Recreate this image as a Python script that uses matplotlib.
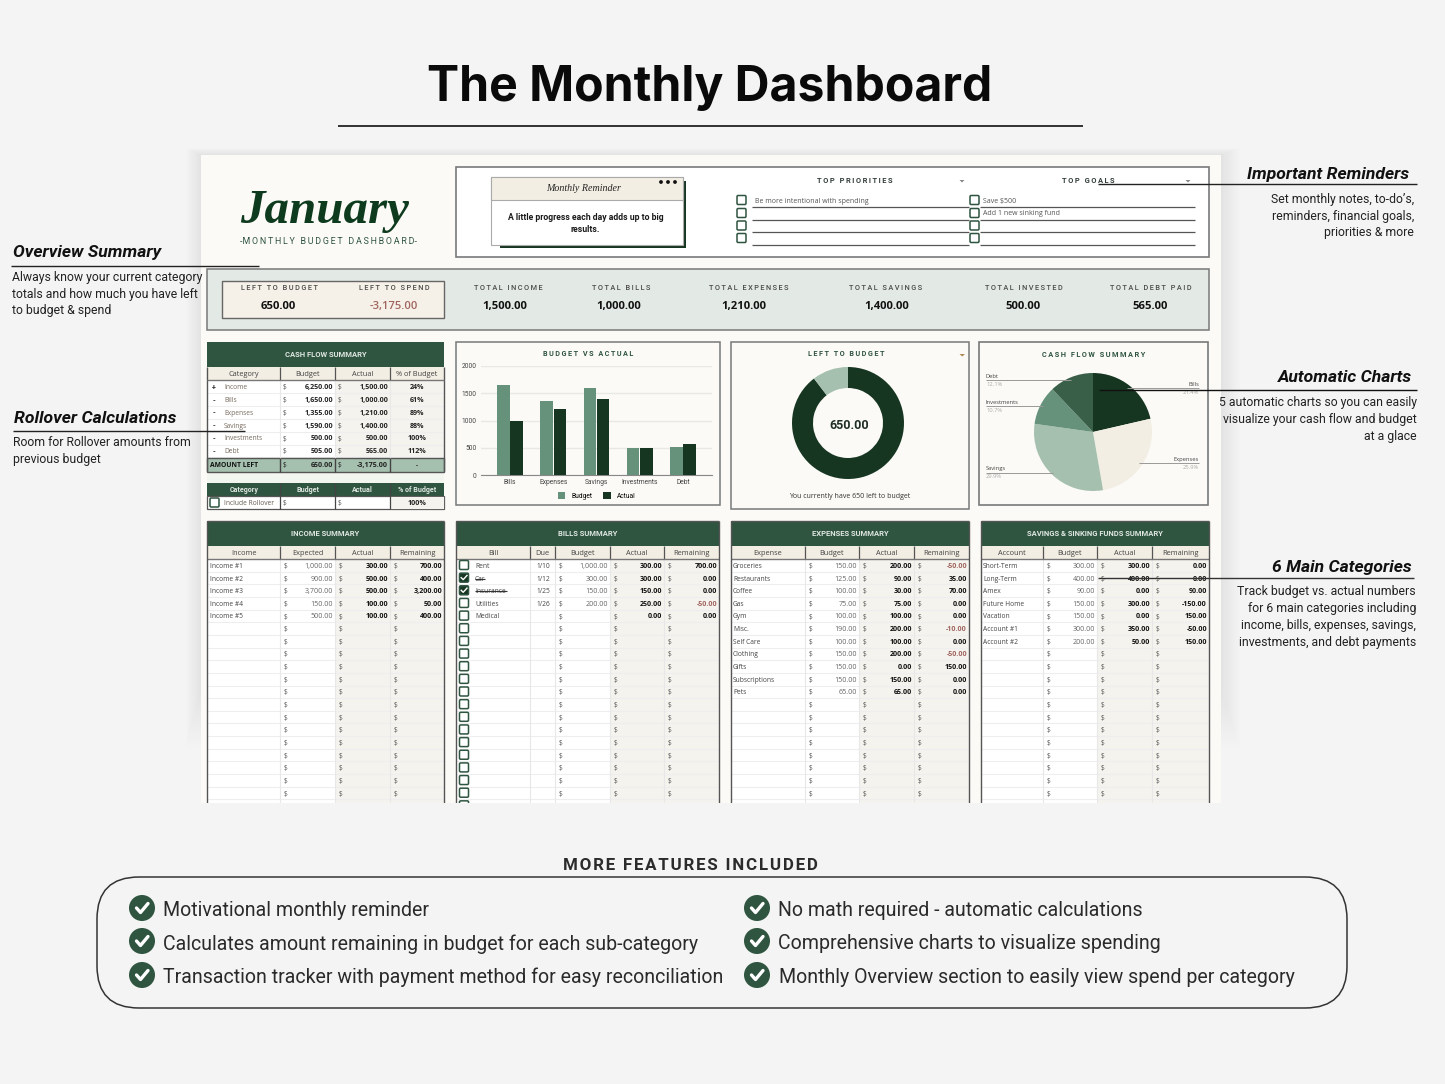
import matplotlib
matplotlib.use("Agg")
from matplotlib import pyplot as plt
from matplotlib.patches import Rectangle, FancyBboxPatch, Circle, Polygon

W, H = 1445, 1084

# colours
BG = "#f4f4f4"
PANEL = "#fbfaf6"
DARK = "#173622"
HEAD = "#2f5440"
MID = "#66917a"
DEEP = "#3a5f48"
LIGHT = "#a5c0ae"
CREAM = "#f3eee3"
SHADE = "#f5f3ee"
BAND = "#e3e9e4"
EDGE = "#77797a"
RED = "#a0645f"

# stat strip
stat_labels = ["LEFT TO BUDGET", "LEFT TO SPEND", "TOTAL INCOME", "TOTAL BILLS",
               "TOTAL EXPENSES", "TOTAL SAVINGS", "TOTAL INVESTED", "TOTAL DEBT PAID"]
stat_values = [650, -3175, 1500, 1000, 1210, 1400, 500, 565]

# cash flow table
flow_signs = ["+", "-", "-", "-", "-", "-"]
flow_cats = ["Income", "Bills", "Expenses", "Savings", "Investments", "Debt"]
flow_budget = [6250, 1650, 1355, 1590, 500, 505]
flow_actual = [1500, 1000, 1210, 1400, 500, 565]
flow_pct = ["24%", "61%", "89%", "88%", "100%", "112%"]

# charts
bar_cats = ["Bills", "Expenses", "Savings", "Investments", "Debt"]
bar_budget = [1650, 1355, 1590, 500, 505]
bar_actual = [1000, 1210, 1400, 500, 565]
donut_values = [5600, 650]
pie_labels = ["Bills", "Expenses", "Savings", "Investments", "Debt"]
pie_values = [1000, 1210, 1400, 500, 565]

# summary tables
income_names = ["Income #1", "Income #2", "Income #3", "Income #4", "Income #5"]
income_expected = [1000, 900, 3700, 150, 500]
income_actual = [300, 500, 500, 100, 100]
income_left = [700, 400, 3200, 50, 400]

bill_names = ["Rent", "Car", "Insurance", "Utilities", "Medical"]
bill_due = ["1/10", "1/12", "1/25", "1/26", ""]
bill_paid = [False, True, True, False, False]
bill_budget = [1000, 300, 150, 200, None]
bill_actual = [300, 300, 150, 250, 0]
bill_left = [700, 0, 0, -50, 0]

expense_names = ["Groceries", "Restaurants", "Coffee", "Gas", "Gym", "Misc.", "Self Care",
                 "Clothing", "Gifts", "Subscriptions", "Pets"]
expense_budget = [150, 125, 100, 75, 100, 190, 100, 150, 150, 150, 65]
expense_actual = [200, 90, 30, 75, 100, 200, 100, 200, 0, 150, 65]
expense_left = [-50, 35, 70, 0, 0, -10, 0, -50, 150, 0, 0]

saving_names = ["Short-Term", "Long-Term", "Amex", "Future Home", "Vacation", "Account #1", "Account #2"]
saving_budget = [300, 400, 90, 150, 150, 300, 200]
saving_actual = [300, 400, 0, 300, 0, 350, 50]
saving_left = [0, 0, 90, -150, 150, -50, 150]

features_left = ["Motivational monthly reminder",
                 "Calculates amount remaining in budget for each sub-category",
                 "Transaction tracker with payment method for easy reconciliation"]
features_right = ["No math required - automatic calculations",
                  "Comprehensive charts to visualize spending",
                  "Monthly Overview section to easily view spend per category"]

fig = plt.figure(figsize=(W / 100, H / 100), dpi=100, facecolor=BG)


def pixel_axes(x0=0, y0=0, x1=W, y1=H, z=0):
    return fig.add_axes([x0 / W, 1 - y1 / H, (x1 - x0) / W, (y1 - y0) / H], zorder=z)


base = pixel_axes()
base.set_xlim(0, W)
base.set_ylim(H, 0)
base.axis("off")

top = pixel_axes(z=5)
top.set_xlim(0, W)
top.set_ylim(H, 0)
top.axis("off")
top.patch.set_alpha(0)


def txt(ax, x, y, s, px, color="#222222", ha="left", weight="normal", family="Roboto", **kw):
    return ax.text(x, y + 0.8, s, fontsize=px * 0.72, color=color, ha=ha, va="center",
                   fontweight=weight, family=family, **kw)


def track(s, gap="\u2009"):
    return gap.join(s)


def box(x0, y0, x1, y1, fc, ec="none", lw=0.0, z=1, ax=base, alpha=None):
    ax.add_patch(Rectangle((x0, y0), x1 - x0, y1 - y0, fc=fc, ec=ec, lw=lw, zorder=z, alpha=alpha))


def line(x0, y0, x1, y1, color="#333333", lw=1.0, z=2, ax=base):
    ax.plot([x0, x1], [y0, y1], color=color, lw=lw, zorder=z, solid_capstyle="butt")


def money(v):
    return f"{v:,.2f}"


def tick_box(x, y, size=9, checked=False):
    base.add_patch(FancyBboxPatch((x - size / 2, y - size / 2), size, size,
                                  boxstyle="round,pad=0,rounding_size=1.2",
                                  fc=DARK if checked else "white", ec=HEAD, lw=1.1, zorder=4))
    if checked:
        base.plot([x - 2.8, x - 0.8, x + 3], [y, y + 2, y - 2.2], color="white", lw=1.0, zorder=5)


def table_header(x0, x1, y, title, cols, col_x):
    box(x0, y, x1, y + 25, HEAD)
    txt(base, (x0 + x1) / 2, y + 12, title, 7.6, color="#dfe7e1", ha="center", weight="bold", zorder=6)
    box(x0, y + 25, x1, y + 38, CREAM)
    edges = [x0] + col_x + [x1]
    for c, a, b in zip(cols, edges[:-1], edges[1:]):
        txt(base, (a + b) / 2, y + 32, c, 7.4, color="#444444", ha="center", family="Open Sans", zorder=6)
    for c in col_x:
        line(c, y + 25, c, y + 38, color="#555555", lw=0.9, z=4)
    line(x0, y + 38, x1, y + 38, color="#777777", lw=1.0, z=4)


def summary_table(x0, x1, title, cols, col_x, names, name_x, a, b, c, left_cols=0):
    # a, b, c: three money columns; col_x[-3:] are their left edges
    y = 521
    table_header(x0, x1, y, title, cols, col_x)
    mx = col_x[-3:]
    row0 = y + 38
    rh = 12.65
    box(x0, row0, x1, 803, "white", z=1)
    box(mx[1], row0, x1, 803, SHADE, z=1)
    for r in range(20):
        yy = row0 + r * rh
        line(x0, yy + rh, x1, yy + rh, color="#eeeeee", lw=0.8, z=2)
        ym = yy + 6.6
        for cx, right, col, bold in zip(mx, mx[1:] + [x1], (a, b, c), (False, True, True)):
            txt(base, cx + 3.5, ym, "$", 6.6, color="#555555", family="Open Sans", zorder=3)
            if r < len(col) and col[r] is not None:
                v = col[r]
                colr = RED if v < 0 and title != "SAVINGS & SINKING FUNDS SUMMARY" else ("#111111" if bold else "#666666")
                txt(base, right - 2, ym, money(v), 7.1, color=colr, ha="right",
                    weight="bold" if bold else "normal", family="Open Sans", zorder=3)
        if r < len(names):
            txt(base, name_x, ym, names[r], 6.6, color="#444444", family="Open Sans", zorder=3)
    for cx in col_x:
        line(cx, row0, cx, 803, color="#e8e8e8", lw=0.8, z=2)
    line(x0, 521, x0, 803, color="#555555", lw=1.0, z=4)
    line(x1, 521, x1, 803, color="#555555", lw=1.0, z=4)
    line(x0, 521, x1, 521, color="#555555", lw=1.0, z=4)


# page title
txt(base, 710, 87.5, "The Monthly Dashboard", 48.2, color="#0a0a0a", ha="center", weight="bold", family="Inter")
line(338, 126, 1083, 126, color="#111111", lw=1.2)

# soft shadow, then the sheet
for i in range(18):
    box(201 - i * 0.9, 155 - i * 0.4, 1221 + i * 1.1, 690 + i * 3.4, "#000000", z=0.5, alpha=0.0055)
box(201, 155, 1221, 803, PANEL, z=0.8)

# month block
txt(base, 325, 210, "January", 49, color="#0e3a1e", ha="center", weight="bold", family="Liberation Serif", style="italic")
txt(base, 328, 241, "-" + track("MONTHLY BUDGET DASHBOARD") + "-", 8.9, color="#2f5440", ha="center")

# reminder box
box(456, 167, 1209, 257, "white", ec=EDGE, lw=1.2)
box(500, 181, 686, 248, DARK, z=2)
box(491, 177, 683, 245, "white", ec="#aaaaaa", lw=0.8, z=3)
box(491, 177, 683, 200, CREAM, ec="#aaaaaa", lw=0.8, z=3)
txt(base, 584, 188, "Monthly Reminder", 10, color="#222222", ha="center", family="Liberation Serif", style="italic", zorder=4)
for dx in [661, 668, 675]:
    base.add_patch(Circle((dx, 182), 1.9, fc="#111111", zorder=4))
txt(base, 586, 217, "A little progress each day adds up to big", 8.7, color="#1a1a1a", ha="center", weight="bold", zorder=4)
txt(base, 585, 229, "results.", 8.7, color="#1a1a1a", ha="center", weight="bold", zorder=4)

txt(base, 855, 180, track("TOP PRIORITIES"), 7.5, color="#333f38", ha="center", weight="bold")
txt(base, 1088, 180, track("TOP GOALS"), 7.5, color="#333f38", ha="center", weight="bold")
for tx in [962, 1188]:
    base.add_patch(Polygon([[tx - 2.5, 180], [tx + 2.5, 180], [tx, 182.5]], fc="#888888"))
for cy, ly in zip([200, 213, 225.5, 238], [207, 219.5, 231.5, 244.5]):
    tick_box(741.5, cy)
    tick_box(974.5, cy)
    line(752, ly, 969, ly, color="#555555", lw=0.9)
    line(980, ly, 1195, ly, color="#555555", lw=0.9)
txt(base, 755, 200.5, "Be more intentional with spending", 7, color="#555555", family="Open Sans")
txt(base, 983, 200.5, "Save $500", 7, color="#555555", family="Open Sans")
txt(base, 983, 213, "Add 1 new sinking fund", 7, color="#555555", family="Open Sans")

# stat strip
box(207, 269, 1209, 330, BAND, ec=EDGE, lw=1.1)
box(222, 281, 444, 318, "#f6f1e8", ec="#666666", lw=1.0, z=2)
label_x = [279, 394, 508, 621, 749, 886, 1024, 1151]
value_x = [278, 394, 505, 619, 744, 887, 1023, 1150]
for lab, val, lx, vx in zip(stat_labels, stat_values, label_x, value_x):
    txt(base, lx, 287.5, track(lab), 7.4, color="#4a4a48", ha="center", weight="medium", zorder=3)
    txt(base, vx, 306, money(val), 11.2, color=RED if val < 0 else "#111111", ha="center",
        weight="bold" if val >= 0 else "semibold", family="Open Sans", zorder=3)

# cash flow summary
table_header(207, 444, 342, "CASH FLOW SUMMARY", ["Category", "Budget", "Actual", "% of Budget"], [280, 335, 390])
box(207, 380, 444, 458, "white")
box(335, 380, 444, 458, SHADE)
for r, (sign, cat, bud, act, pct) in enumerate(zip(flow_signs, flow_cats, flow_budget, flow_actual, flow_pct)):
    ym = 387 + r * 12.8
    line(207, ym + 6.4, 444, ym + 6.4, color="#eeeeee", lw=0.8)
    txt(base, 214, ym, sign, 7, color="#333333", ha="center", weight="bold", zorder=3)
    txt(base, 224, ym, cat, 6.6, color="#776a5e", family="Open Sans", zorder=3)
    txt(base, 283, ym, "$", 6.6, color="#555555", family="Open Sans", zorder=3)
    txt(base, 333, ym, money(bud), 7.1, color="#222222", ha="right", weight="bold", family="Open Sans", zorder=3)
    txt(base, 338, ym, "$", 6.6, color="#555555", family="Open Sans", zorder=3)
    txt(base, 388, ym, money(act), 7.1, color="#222222", ha="right", weight="bold", family="Open Sans", zorder=3)
    txt(base, 417, ym, pct, 7.1, color="#222222", ha="center", weight="bold", family="Open Sans", zorder=3)
box(207, 458, 444, 471.5, LIGHT, ec="#555555", lw=1.0, z=2)
txt(base, 210, 464.5, "AMOUNT LEFT", 6.8, color="#111111", weight="bold", family="Open Sans", zorder=3)
txt(base, 283, 464.5, "$", 6.6, color="#222222", family="Open Sans", zorder=3)
txt(base, 333, 464.5, money(650), 7.1, color="#222222", ha="right", weight="bold", family="Open Sans", zorder=3)
txt(base, 338, 464.5, "$", 6.6, color="#222222", family="Open Sans", zorder=3)
txt(base, 388, 464.5, money(-3175), 7.1, color="#222222", ha="right", weight="bold", family="Open Sans", zorder=3)
txt(base, 417, 464.5, "-", 6.4, color="#222222", ha="center", weight="bold", family="Open Sans", zorder=3)
box(207, 472, 444, 483, "#f3f5ef")
for c in [280, 335, 390]:
    line(c, 380, c, 458, color="#e8e8e8", lw=0.8)
    line(c, 458, c, 471.5, color="#444444", lw=1.0, z=3)
line(207, 367, 207, 471, color="#555555", lw=1.0, z=3)
line(444, 367, 444, 471, color="#555555", lw=1.0, z=3)

box(207, 483, 444, 496, HEAD)
for lab, cx in zip(["Category", "Budget", "Actual", "% of Budget"], [244, 308, 362, 417]):
    txt(base, cx, 489.2, lab, 7.2, color="#dfe7e1", ha="center", weight="bold", zorder=3)
box(207, 496, 444, 509, "white", ec="#555555", lw=0.9)
box(390, 496, 444, 509, SHADE, ec="#555555", lw=0.6, z=2)
for c in [280, 335, 390]:
    line(c, 483, c, 509, color="#444444", lw=0.9, z=3)
tick_box(214.5, 502.5)
txt(base, 224, 502.5, "Include Rollover", 6.6, color="#665b50", family="Open Sans", zorder=3)
txt(base, 283, 502.5, "$", 6.6, color="#555555", family="Open Sans", zorder=3)
txt(base, 338, 502.5, "$", 6.6, color="#555555", family="Open Sans", zorder=3)
txt(base, 417, 502.5, "100%", 7.1, color="#222222", ha="center", weight="bold", family="Open Sans", zorder=3)

# chart frames
box(456, 342, 720, 505, PANEL, ec=EDGE, lw=1.1)
box(730.5, 342, 969, 508.5, PANEL, ec=EDGE, lw=1.1)
box(979, 342, 1208, 505, PANEL, ec=EDGE, lw=1.2)
txt(base, 588, 353, track("BUDGET VS ACTUAL"), 7.3, color=HEAD, ha="center", weight="bold")
txt(base, 846, 353.5, track("LEFT TO BUDGET"), 7.3, color=HEAD, ha="center", weight="bold")
txt(base, 1094, 354, track("CASH FLOW SUMMARY"), 7.4, color=HEAD, ha="center", weight="bold")
base.add_patch(Polygon([[959.5, 354], [965, 354], [962.2, 356.5]], fc="#b08a55"))
txt(base, 849.5, 495.5, "You currently have 650 left to budget", 7.0, color="#333333", ha="center", family="Open Sans")

# budget vs actual bars
ax = pixel_axes(481, 366, 712, 475, z=1)
ax.patch.set_alpha(0)
xs = range(len(bar_cats))
ax.bar([i - 0.155 for i in xs], bar_budget, width=0.29, color=MID, zorder=3, label="Budget")
ax.bar([i + 0.155 for i in xs], bar_actual, width=0.29, color=DARK, zorder=3, label="Actual")
ax.set_xlim(-0.67, 4.67)
ax.set_ylim(0, 2000)
ax.set_yticks([0, 500, 1000, 1500, 2000])
ax.set_xticks(list(xs), bar_cats)
ax.tick_params(length=0, labelsize=4.8, labelcolor="#444444", pad=3)
for lb in ax.get_xticklabels() + ax.get_yticklabels():
    lb.set_family("Roboto")
ax.grid(axis="y", color="#e8e8e4", lw=1.0, zorder=0)
for s in ["top", "right", "left"]:
    ax.spines[s].set_visible(False)
ax.spines["bottom"].set_color("#888888")
ax.legend(loc="upper center", bbox_to_anchor=(0.5, -0.105), ncol=2, frameon=False,
          handlelength=1.15, handleheight=1.15, columnspacing=1.6, handletextpad=0.9,
          prop={"family": "Roboto", "size": 4.8})

# donut
ax = pixel_axes(848 - 56, 423 - 56, 848 + 56, 423 + 56, z=1)
ax.pie(donut_values, startangle=90, counterclock=False, colors=[DARK, LIGHT], radius=1.0,
       wedgeprops={"width": 21 / 56, "linewidth": 0})
ax.set_xlim(-1, 1)
ax.set_ylim(-1, 1)
txt(top, 849.5, 425, "650.00", 12.5, color="#1e2e25", ha="center", weight="bold")

# cash flow pie
ax = pixel_axes(1093 - 59, 432 - 59, 1093 + 59, 432 + 59, z=1)
ax.pie(pie_values, startangle=90, counterclock=False, colors=[DARK, CREAM, LIGHT, MID, DEEP], radius=1.0,
       wedgeprops={"linewidth": 0})
ax.set_xlim(-1, 1)
ax.set_ylim(-1, 1)

total = sum(pie_values)
pie_pct = [f"{v / total * 100:.1f}%" for v in pie_values]
label_spots = [(1199, 388, 1127, "right"), (1199, 463, 1139, "right"), (986, 472.5, 1053, "left"),
               (986, 406, 1043, "left"), (986, 380, 1071, "left")]
for name, pct, (lx, ly, tipx, ha) in zip(pie_labels, pie_pct, label_spots):
    line(lx, ly, tipx, ly, color="#999999", lw=0.7, z=4, ax=top)
    txt(top, lx, ly - 4.5, name, 5.8, color="#444444", ha=ha, family="Open Sans")
    txt(top, lx, ly + 3.5, pct, 5.8, color="#aaaaaa", ha=ha, family="Open Sans")

# summary tables
summary_table(207, 444, "INCOME SUMMARY", ["Income", "Expected", "Actual", "Remaining"], [280, 335, 390],
              income_names, 210, income_expected, income_actual, income_left)
summary_table(456, 719, "BILLS SUMMARY", ["Bill", "Due", "Budget", "Actual", "Remaining"], [530, 555, 610, 664],
              bill_names, 475, bill_budget, bill_actual, bill_left)
for r in range(20):
    ym = 559 + r * 12.65 + 6.6
    paid = r < len(bill_paid) and bill_paid[r]
    tick_box(464, ym - 0.6, checked=paid)
    if r < len(bill_due):
        txt(base, 543, ym, bill_due[r], 6.6, color="#444444", ha="center", family="Open Sans", zorder=3)
    if paid:
        line(475, ym + 0.5, 475 + (10 if bill_names[r] == "Car" else 32), ym + 0.5, color="#333333", lw=0.8, z=4)
summary_table(731, 969, "EXPENSES SUMMARY", ["Expense", "Budget", "Actual", "Remaining"], [805, 859, 914],
              expense_names, 733, expense_budget, expense_actual, expense_left)
summary_table(981, 1209, "SAVINGS & SINKING FUNDS SUMMARY", ["Account", "Budget", "Actual", "Remaining"], [1043, 1097, 1152],
              saving_names, 983, saving_budget, saving_actual, saving_left)

# hide what runs past the crop
box(190, 803, 1260, 850, BG, z=8)

# callouts
HEAD_PX = 17.5
DESC_PX = 12.2
txt(top, 1409, 173.5, "Important Reminders", HEAD_PX, color="#111111", ha="right", weight="bold", style="italic")
line(1098, 184, 1417, 184, color="#222222", lw=1.0, z=6, ax=top)
for y, s in zip([199, 215.5, 232], ["Set monthly notes, to-do’s,", "reminders, financial goals,", "priorities & more"]):
    txt(top, 1414, y, s, DESC_PX, color="#222222", ha="right")

txt(top, 13, 251.5, "Overview Summary", HEAD_PX, color="#111111", weight="bold", style="italic")
line(11, 266, 259, 266, color="#222222", lw=1.0, z=6, ax=top)
for y, s in zip([276.5, 293.5, 310], ["Always know your current category", "totals and how much you have left", "to budget & spend"]):
    txt(top, 12, y, s, DESC_PX, color="#222222")

txt(top, 14, 417.5, "Rollover Calculations", HEAD_PX, color="#111111", weight="bold", style="italic")
line(13, 431, 245, 431, color="#222222", lw=1.0, z=6, ax=top)
for y, s in zip([442, 459], ["Room for Rollover amounts from", "previous budget"]):
    txt(top, 13, y, s, DESC_PX, color="#222222")

txt(top, 1412, 376.5, "Automatic Charts", HEAD_PX, color="#111111", ha="right", weight="bold", style="italic")
line(1099, 390, 1417, 390, color="#111111", lw=1.0, z=6, ax=top)
for y, s in zip([402, 418.5, 435.5], ["5 automatic charts so you can easily", "visualize your cash flow and budget", "at a glace"]):
    txt(top, 1417, y, s, DESC_PX, color="#222222", ha="right")

txt(top, 1412, 566.5, "6 Main Categories", HEAD_PX, color="#111111", ha="right", weight="bold", style="italic")
line(1098, 578, 1414, 578, color="#333333", lw=1.0, z=6, ax=top)
for y, s in zip([590.5, 607.5, 624.5, 641.5], ["Track budget vs. actual numbers", "for 6 main categories including",
                                                "income, bills, expenses, savings,", "investments, and debt payments"]):
    txt(top, 1416, y, s, DESC_PX, color="#222222", ha="right")

# more features
txt(top, 690, 865, track("MORE FEATURES INCLUDED", "\u200a"), 16.9, color="#2b2b2b", ha="center", weight="bold")
top.add_patch(FancyBboxPatch((97, 877), 1250, 131, boxstyle="round,pad=0,rounding_size=42",
                             fc="none", ec="#333333", lw=1.1))
for col_x, text_x, feats in [(142, 163, features_left), (757, 778, features_right)]:
    for i, (cy, ty, s) in enumerate(zip([908, 941, 975], [909.5, 943, 976.5], feats)):
        top.add_patch(Circle((col_x, cy), 13, fc=HEAD, ec="none"))
        top.plot([col_x - 5.5, col_x - 1.5, col_x + 6], [cy, cy + 4.5, cy - 4.5], color="white", lw=2.4,
                 solid_capstyle="round", solid_joinstyle="round")
        txt(top, text_x + (1 if text_x == 778 and i == 2 else 0), ty, s, 19.55, color="#2a2a2a")

fig.savefig("out.png", dpi=100, facecolor=BG)
